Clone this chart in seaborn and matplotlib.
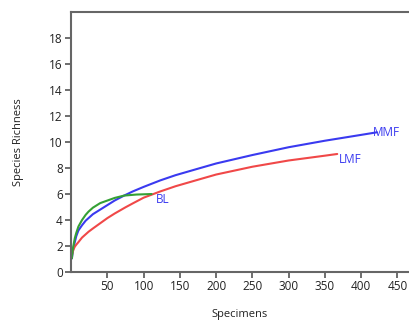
import pandas as pd
import matplotlib.pyplot as plt
import seaborn as sns

# rarefaction curves
mmf_x = [1, 2, 3, 5, 7, 10, 15, 20, 24, 30, 40, 50, 60, 73, 85, 100, 123, 144,
         175, 200, 250, 300, 350, 400, 422]
mmf_y = [1.05, 1.5, 1.8, 2.3, 2.75, 3.2, 3.6, 3.95, 4.15, 4.45, 4.8, 5.15, 5.5,
         5.88, 6.2, 6.55, 7.05, 7.45, 7.95, 8.35, 9.0, 9.6, 10.1, 10.55, 10.75]

lmf_x = [1, 2, 3, 5, 7, 10, 15, 20, 24, 30, 40, 50, 60, 75, 85, 100, 123, 144,
         175, 200, 250, 300, 350, 367]
lmf_y = [1.3, 1.5, 1.7, 1.95, 2.1, 2.3, 2.65, 2.9, 3.1, 3.35, 3.75, 4.15, 4.5,
         4.98, 5.28, 5.72, 6.2, 6.6, 7.1, 7.5, 8.1, 8.58, 8.95, 9.08]

bl_x = [1, 2, 3, 5, 7, 10, 15, 20, 24, 30, 40, 50, 60, 73, 90, 111]
bl_y = [1.05, 1.6, 2.0, 2.6, 3.0, 3.5, 4.0, 4.4, 4.65, 4.95, 5.3, 5.5, 5.7,
        5.88, 5.96, 6.0]

x_ticks = [50, 100, 150, 200, 250, 300, 350, 400, 450]
y_ticks = [0, 2, 4, 6, 8, 10, 12, 14, 16, 18]

sns.set_style("ticks")
plt.rcParams["font.family"] = ["Open Sans", "DejaVu Sans"]

fig = plt.figure(figsize=(4.09, 3.25), dpi=100)
ax = fig.add_axes([0.174, 0.163, 0.826, 0.8])

curves = [
    (mmf_x, mmf_y, "#3a3af0"),
    (lmf_x, lmf_y, "#f04848"),
    (bl_x, bl_y, "#35a035"),
]
for xs, ys, col in curves:
    d = pd.DataFrame({"x": xs, "y": ys})
    sns.lineplot(data=d, x="x", y="y", color=col, linewidth=1.5, ax=ax,
                 solid_joinstyle="round")

lab_col = "#3a3af0"
ax.text(mmf_x[-1] - 6, mmf_y[-1], "MMF", color=lab_col, fontsize=8.5, va="center")
ax.text(lmf_x[-1] + 2, lmf_y[-1] - 0.45, "LMF", color=lab_col, fontsize=8.5, va="center")
ax.text(bl_x[-1] + 6, bl_y[-1] - 0.4, "BL", color=lab_col, fontsize=8.5, va="center")

ax.set_xlim(0, 466)
ax.set_ylim(0, 20)
ax.set_xticks(x_ticks)
ax.set_yticks(y_ticks)
ax.tick_params(labelsize=8.5, length=4, width=1.2, color="#555555", pad=2,
               labelcolor="#222222")
ax.set_xlabel("Specimens", fontsize=8, labelpad=11, color="#222222")
ax.set_ylabel("Species Richness", fontsize=8, labelpad=18, color="#222222")
for s in ax.spines.values():
    s.set_color("#666666")
    s.set_linewidth(1.5)
ax.spines["right"].set_visible(False)

fig.savefig("out.png", dpi=100)
